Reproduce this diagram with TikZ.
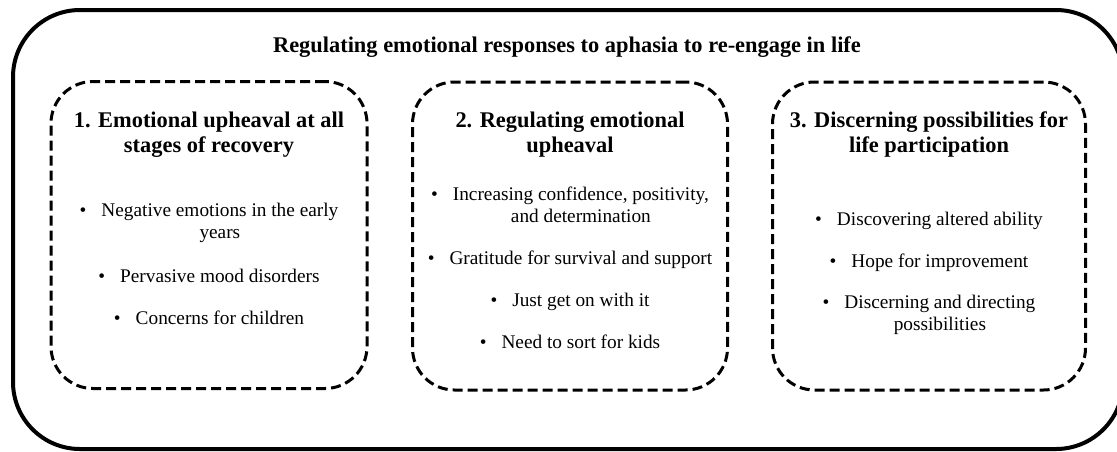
\documentclass[tikz,border=0pt]{standalone}
\usepackage{fontspec}
\setmainfont{Liberation Serif}
% bullet followed by a centred block of lines
\newcommand{\bulitem}[1]{\textbullet\hspace{15pt}\begin{tabular}[t]{@{}c@{}}#1\end{tabular}}
\newcommand{\stack}[1]{\begin{tabular}[t]{@{}c@{}}#1\end{tabular}}
\begin{document}
\begin{tikzpicture}[x=1pt,y=-1pt,
  frame/.style={draw,line width=4pt,rounded corners=67pt},
  theme/.style={draw,line width=3pt,dash pattern=on 10pt off 5pt,
                rounded corners=42pt,inner sep=0pt},
  heading/.style={inner sep=0pt,anchor=base,
                  font=\fontsize{22.4}{25}\selectfont\bfseries},
  bodyitem/.style={inner sep=0pt,anchor=base,
                   font=\fontsize{19.3}{22.5}\selectfont}]
\useasboundingbox (0,0) rectangle (1117,451);
\begin{scope}
  \clip (0,0) rectangle (1117,451);
  \node[frame,minimum width=1110pt,minimum height=439pt] (frame) at (568,229.5) {};
\end{scope}

\node[heading] (title) at (567,52) {Regulating emotional responses to aphasia to re-engage in life};

% three theme boxes
\node[theme,minimum width=316pt,minimum height=307pt] (box1) at (209,235) {};
\node[theme,minimum width=315pt,minimum height=308pt] (box2) at (570,236) {};
\node[theme,minimum width=313pt,minimum height=308pt] (box3) at (929,236) {};

% theme 1
\node[heading] (h1) at (209,127) {\stack{1. Emotional upheaval at all\\stages of recovery}};
\node[bodyitem] (i11) at (209,216) {\bulitem{Negative emotions in the early\\years}};
\node[bodyitem] (i12) at (209,282) {\bulitem{Pervasive mood disorders}};
\node[bodyitem] (i13) at (209,324) {\bulitem{Concerns for children}};

% theme 2
\node[heading] (h2) at (570,127) {\stack{2. Regulating emotional\\upheaval}};
\node[bodyitem] (i21) at (570,200) {\bulitem{Increasing confidence, positivity,\\and determination}};
\node[bodyitem] (i22) at (570,264) {\bulitem{Gratitude for survival and support}};
\node[bodyitem] (i23) at (570,306) {\bulitem{Just get on with it}};
\node[bodyitem] (i24) at (570,348) {\bulitem{Need to sort for kids}};

% theme 3
\node[heading] (h3) at (929,127) {\stack{3. Discerning possibilities for\\life participation}};
\node[bodyitem] (i31) at (929,225) {\bulitem{Discovering altered ability}};
\node[bodyitem] (i32) at (929,267) {\bulitem{Hope for improvement}};
\node[bodyitem] (i33) at (929,308) {\bulitem{Discerning and directing\\possibilities}};
\end{tikzpicture}
\end{document}
